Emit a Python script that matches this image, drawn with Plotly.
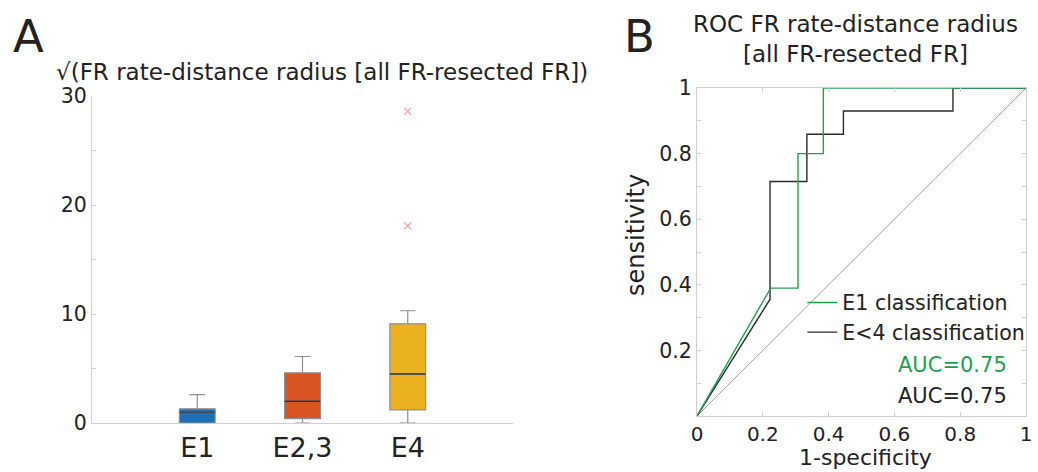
import plotly.graph_objects as go

# ---- Panel A data (box statistics) ----
groups = ["E1", "E2,3", "E4"]
positions = [1, 2, 3]
q1 = [0.0, 0.4, 1.2]
medians = [1.0, 2.0, 4.5]
q3 = [1.3, 4.6, 9.1]
lower_fence = [0.0, 0.0, 0.0]
upper_fence = [2.6, 6.1, 10.3]
box_colors = ["#1f6fb5", "#d95323", "#ebb120"]
outlier_x = [3, 3]
outlier_y = [18.1, 28.6]

# ---- Panel B data (ROC curves) ----
e1_fpr = [0.0, 0.224, 0.307, 0.307, 0.384, 0.384, 1.0]
e1_tpr = [0.0, 0.39, 0.39, 0.80, 0.80, 1.0, 1.0]
e4_fpr = [0.0, 0.222, 0.222, 0.334, 0.334, 0.445, 0.445, 0.778, 0.778, 1.0]
e4_tpr = [0.0, 0.356, 0.715, 0.715, 0.859, 0.859, 0.93, 0.93, 1.0, 1.0]
chance = [0.0, 1.0]
auc_e1 = 0.75
auc_e4 = 0.75

FONT = "DejaVu Sans"
TXT = "#222222"
AX = "#cfcfcf"
GREEN = "#22a04f"
BOXW = 0.34

fig = go.Figure()

for i, g in enumerate(groups):
    fig.add_trace(go.Box(
        x=[positions[i]], q1=[q1[i]], median=[medians[i]], q3=[q3[i]],
        lowerfence=[lower_fence[i]], upperfence=[upper_fence[i]],
        width=BOXW, whiskerwidth=0.43, fillcolor=box_colors[i],
        line=dict(color="#8f8f8f", width=1.2), boxpoints=False,
        showlegend=False, xaxis="x", yaxis="y", hoverinfo="skip"))
    fig.add_trace(go.Scatter(
        x=[positions[i] - BOXW / 2, positions[i] + BOXW / 2],
        y=[medians[i], medians[i]], mode="lines",
        line=dict(color="#333333", width=1.4), showlegend=False,
        xaxis="x", yaxis="y", hoverinfo="skip"))

fig.add_trace(go.Scatter(
    x=outlier_x, y=outlier_y, mode="markers",
    marker=dict(symbol="x-thin", size=7, line=dict(color="#f4a3a3", width=1.2)),
    showlegend=False, xaxis="x", yaxis="y"))

fig.add_trace(go.Scatter(x=chance, y=chance, mode="lines",
                         line=dict(color="#888888", width=0.8),
                         showlegend=False, xaxis="x2", yaxis="y2", cliponaxis=False))
fig.add_trace(go.Scatter(x=e4_fpr, y=e4_tpr, mode="lines", name="E<4 classification",
                         line=dict(color="#2b2b2b", width=1.4),
                         xaxis="x2", yaxis="y2", cliponaxis=False))
fig.add_trace(go.Scatter(x=e1_fpr, y=e1_tpr, mode="lines", name="E1 classification",
                         line=dict(color=GREEN, width=1.4),
                         xaxis="x2", yaxis="y2", cliponaxis=False))

fig.update_layout(
    width=1038, height=472, margin=dict(l=0, r=0, t=0, b=0, autoexpand=False),
    paper_bgcolor="white", plot_bgcolor="white",
    font=dict(family=FONT, color=TXT, size=20),
    xaxis=dict(domain=[92 / 1038, 513 / 1038], range=[0, 4], automargin=False,
               tickvals=positions, ticktext=groups, tickfont=dict(size=27),
               showline=True, linecolor=AX, linewidth=1.2, ticks="",
               showgrid=False, zeroline=False, fixedrange=True),
    yaxis=dict(domain=[1 - 423 / 472, 1 - 96 / 472], range=[0, 30], automargin=False,
               tickvals=[0, 10, 20, 30], showline=True, linecolor=AX, linewidth=1.2,
               ticks="inside", ticklen=4, tickcolor=AX,
               minor=dict(dtick=5, ticks="inside", ticklen=4, tickcolor=AX),
               showgrid=False, zeroline=False, tickfont=dict(size=20.5)),
    xaxis2=dict(domain=[697 / 1038, 1026 / 1038], range=[0, 1], anchor="y2",
                automargin=False,
                tickvals=[0, 0.2, 0.4, 0.6, 0.8, 1],
                ticktext=["0", "0.2", "0.4", "0.6", "0.8", "1"],
                showline=True, mirror="ticks", linecolor=AX, linewidth=1.2,
                ticks="inside", ticklen=4, tickcolor=AX,
                showgrid=False, zeroline=False, tickfont=dict(size=20)),
    yaxis2=dict(domain=[1 - 416 / 472, 1 - 88 / 472], range=[0, 1], anchor="x2",
                automargin=False,
                tickvals=[0.2, 0.4, 0.6, 0.8, 1],
                ticktext=["0.2", "0.4", "0.6", "0.8", "1"],
                showline=True, mirror="ticks", linecolor=AX, linewidth=1.2,
                ticks="inside", ticklen=4, tickcolor=AX,
                minor=dict(dtick=0.1, ticks="inside", ticklen=4, tickcolor=AX),
                showgrid=False, zeroline=False, tickfont=dict(size=20.5)),
    legend=dict(x=0.773, y=0.327, xanchor="left", yanchor="middle",
                bgcolor="rgba(0,0,0,0)", font=dict(size=20.5),
                traceorder="reversed", tracegroupgap=0, itemwidth=30),
)

annos = [
    dict(text="A", x=11 / 1038, y=1 - 36 / 472, xanchor="left", yanchor="middle",
         font=dict(size=45)),
    dict(text="B", x=622 / 1038, y=1 - 36 / 472, xanchor="left", yanchor="middle",
         font=dict(size=45)),
    dict(text="\u221a(FR rate-distance radius [all FR-resected FR])",
         x=54 / 1038, y=1 - 72 / 472, xanchor="left", yanchor="middle",
         font=dict(size=23)),
    dict(text="ROC FR rate-distance radius<br>[all FR-resected FR]",
         x=855 / 1038, y=1 - 39 / 472, xanchor="center", yanchor="middle",
         font=dict(size=23)),
    dict(text="sensitivity", x=636 / 1038, y=1 - 235 / 472, textangle=-90,
         xanchor="center", yanchor="middle", font=dict(size=24)),
    dict(text="1-specificity", x=865 / 1038, y=0, xanchor="center", yanchor="bottom",
         yshift=0, font=dict(size=22)),
    dict(text=f"AUC={auc_e1:.2f}", x=1009 / 1038, y=1 - 365 / 472,
         xanchor="right", yanchor="middle", font=dict(size=21, color=GREEN)),
    dict(text=f"AUC={auc_e4:.2f}", x=1009 / 1038, y=1 - 396 / 472,
         xanchor="right", yanchor="middle", font=dict(size=21, color=TXT)),
]
for a in annos:
    a.update(xref="paper", yref="paper", showarrow=False)
    fig.add_annotation(**a)

fig.write_html("out.html", config={"displayModeBar": False},
               post_script="document.body.style.margin='0';")
